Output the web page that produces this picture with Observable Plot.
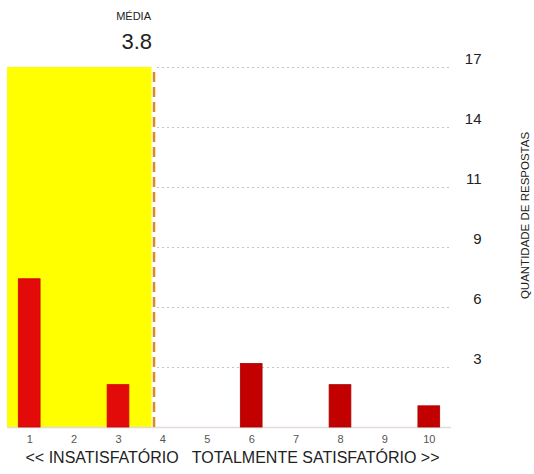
<!DOCTYPE html>
<html>
<head>
<meta charset="utf-8">
<script src="https://cdn.jsdelivr.net/npm/d3@7"></script>
<script src="https://cdn.jsdelivr.net/npm/@observablehq/plot@0.6"></script>
<style>
  body { margin: 0; background: #fff; }
  #chart svg { font-family: "Liberation Sans", Arial, sans-serif; }
</style>
</head>
<body>
<div id="chart"></div>
<script>
const scores = [1, 2, 3, 4, 5, 6, 7, 8, 9, 10];
const counts = [7, 0, 2, 0, 0, 3, 0, 2, 0, 1];
const yMax = 17;
const yTickSteps = [1, 2, 3, 4, 5, 6];
const meanLabel = "MÉDIA";
const xTitle = "<< INSATISFATÓRIO   TOTALMENTE SATISFATÓRIO >>";
const yTitle = "QUANTIDADE DE RESPOSTAS";

const data = scores.map((s, i) => ({score: s, count: counts[i]}));
const total = d3.sum(counts);
const mean = d3.sum(data, d => d.score * d.count) / total;
const yTicks = yTickSteps.map(k => yMax * k / 6);
const bars = data.filter(d => d.count > 0);

const chart = Plot.plot({
  width: 534,
  height: 474,
  marginLeft: 7,
  marginRight: 83,
  marginTop: 67,
  marginBottom: 47,
  x: {type: "linear", domain: [0.5, 10.5], axis: null},
  y: {domain: [0, yMax], axis: null},
  marks: [
    Plot.ruleY(yTicks, {stroke: "#c4c4c4", strokeWidth: 1.2, strokeDasharray: "2,3"}),
    Plot.rectY([{a: 0.5, b: mean, t: yMax}], {x1: "a", x2: "b", y1: 0, y2: "t", fill: "#ffff00"}),
    Plot.ruleY([0], {stroke: "#e4d8d8", strokeWidth: 1.5}),
    Plot.rectY(bars, {
      x1: d => d.score - 0.245,
      x2: d => d.score + 0.245,
      y1: 0,
      y2: "count",
      fill: d => d.score < mean ? "#e30a0a" : "#c30000",
      stroke: d => d.score < mean ? "#d00000" : "#a80000",
      strokeWidth: 0.8
    }),
    Plot.ruleX([mean], {y1: 0, y2: yMax, stroke: "#ffffff", strokeWidth: 5}),
    Plot.ruleX([mean], {y1: 0, y2: yMax, stroke: "#e08a1c", strokeWidth: 2.5, strokeDasharray: "10,5"}),
    Plot.text(yTicks, {x: 10.5, y: d => d, text: d => String(Math.round(d)), textAnchor: "end", dx: 30, dy: -8, fontSize: 15, fill: "#222"}),
    Plot.text(scores, {x: d => d, y: 0, text: d => String(d), dy: 12, fontSize: 11, fill: "#555"}),
    Plot.text([xTitle], {frameAnchor: "bottom", textAnchor: "middle", text: d => d, dx: 3, dy: 35, fontSize: 16, fill: "#222", style: {whiteSpace: "pre"}}),
    Plot.text([yTitle], {frameAnchor: "right", textAnchor: "middle", text: d => d, dx: 74, dy: -32, rotate: -90, fontSize: 11.5, fill: "#222"}),
    Plot.text([mean], {x: d => d, y: yMax, text: d => d.toFixed(1), textAnchor: "end", dx: -2, dy: -26, fontSize: 22, fill: "#222"}),
    Plot.text([meanLabel], {x: () => mean, y: yMax, text: d => d, textAnchor: "end", dx: -3, dy: -51, fontSize: 11, fill: "#222"})
  ]
});
document.getElementById("chart").appendChild(chart);
</script>
</body>
</html>
